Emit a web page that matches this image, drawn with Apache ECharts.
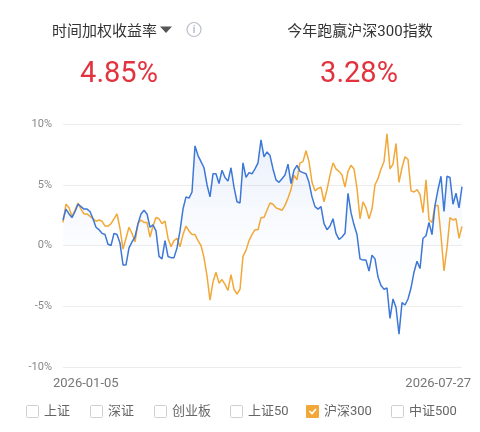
<!DOCTYPE html>
<html>
<head>
<meta charset="utf-8">
<script src="https://cdn.jsdelivr.net/npm/echarts@6/dist/echarts.min.js"></script>
<style>
html,body{margin:0;padding:0;background:#fff;}
#c{width:480px;height:432px;}
</style>
</head>
<body>
<div id="c"></div>
<script>
// ---- data ----
const startDate = '2026-01-05';
const endDate = '2026-07-27';
const holidays = ['2026-02-13','2026-02-16','2026-02-17','2026-02-18','2026-02-19','2026-02-20','2026-02-23','2026-04-06','2026-05-01','2026-05-04','2026-05-05','2026-06-19'];
const strategy = [2.1,3.0,2.6,2.3,2.8,3.4,3.2,3.0,3.0,2.8,2.2,1.5,1.3,1.0,0.9,0.1,0.0,1.0,0.9,0.2,
-1.6,-1.6,-0.2,0.3,0.7,1.8,2.6,2.9,2.6,1.5,1.7,1.2,-0.9,-1.1,0.4,-0.9,-1.0,-1.0,-0.2,1.2,
3.0,4.0,3.9,4.4,8.2,7.4,6.9,6.4,5.0,4.0,5.9,5.9,5.1,6.2,5.6,5.3,6.4,4.8,3.6,3.5,
6.8,5.6,6.0,5.9,6.3,6.8,8.7,7.3,7.7,7.4,6.3,5.4,5.2,5.5,5.8,6.7,5.1,6.2,6.6,6.1,
6.0,5.9,5.2,4.0,3.2,3.0,3.2,1.8,1.3,1.6,2.2,1.0,0.5,0.7,1.0,4.3,2.7,1.7,0.9,-1.1,
-1.2,-1.2,-2.1,-0.8,-1.1,-2.6,-3.3,-3.6,-3.5,-6.0,-4.4,-5.1,-7.3,-4.7,-4.9,-4.4,-3.5,-2.2,-1.3,-1.9,
0.6,0.8,1.9,0.9,3.3,4.6,5.7,2.8,5.7,5.6,3.4,4.3,3.1,4.85];
const hs300 = [1.9,3.4,3.1,2.4,2.9,3.5,3.0,2.6,2.6,2.4,2.2,2.0,2.1,2.0,1.6,1.6,1.8,2.2,2.6,1.4,
-0.3,0.6,1.5,1.0,0.3,1.8,2.1,1.9,1.9,0.7,1.6,2.3,2.2,1.8,2.0,0.6,-0.1,0.4,0.6,-0.1,
0.9,1.6,1.2,0.9,0.9,0.4,0.0,-1.0,-2.5,-4.5,-3.0,-2.2,-3.1,-2.8,-3.2,-3.7,-2.4,-3.6,-4.0,-3.6,
-0.9,-0.4,0.4,0.9,1.3,1.3,2.3,2.3,2.9,3.5,3.4,3.1,3.0,2.9,3.3,3.9,4.6,5.8,5.4,6.8,
6.9,7.8,6.9,5.2,4.5,4.7,4.8,3.6,4.6,5.8,6.8,6.3,6.1,5.8,4.8,6.1,6.6,6.3,4.7,2.2,
3.6,3.1,2.2,3.0,5.0,5.5,6.3,6.9,9.2,6.3,6.7,8.4,5.2,6.4,7.3,7.1,4.5,4.4,4.6,4.2,
2.7,5.4,2.1,1.9,3.3,3.3,0.8,-2.1,-0.2,2.3,2.1,2.2,0.6,1.57];
const headerLabels = ['时间加权收益率', '今年跑赢沪深300指数'];
const headerValues = ['4.85%', '3.28%'];
const legendNames = ['上证', '深证', '创业板', '上证50', '沪深300', '中证500'];
const legendChecked = [false, false, false, false, true, false];
const yTicks = {min: -10, max: 10, interval: 5};

// trading day categories
const dates = (function () {
  const out = [];
  const d = new Date(startDate + 'T00:00:00Z');
  const end = new Date(endDate + 'T00:00:00Z');
  while (d <= end) {
    const s = d.toISOString().slice(0, 10);
    const w = d.getUTCDay();
    if (w !== 0 && w !== 6 && holidays.indexOf(s) < 0) out.push(s);
    d.setUTCDate(d.getUTCDate() + 1);
  }
  return out;
})();
const N = strategy.length;
const cats = dates.slice(0, N - 1).concat([endDate]);

const BLUE = '#3d78d6';
const ORANGE = '#f2a838';
const RED = '#e1323d';
const FONT = 'Roboto, "Noto Sans CJK SC", sans-serif';

// legend graphic
const legendBoxX = [26, 90, 154, 230, 306, 391];
const graphics = [];
legendNames.forEach(function (name, i) {
  const bx = legendBoxX[i];
  if (legendChecked[i]) {
    graphics.push({type: 'rect', shape: {x: bx, y: 405, width: 13, height: 13, r: 1},
      style: {fill: ORANGE}});
    graphics.push({type: 'polyline', shape: {points: [[bx + 3.5, 411], [bx + 6, 413.5], [bx + 10, 409]]},
      style: {stroke: '#fff', lineWidth: 1.6, fill: null}});
  } else {
    graphics.push({type: 'rect', shape: {x: bx + 0.5, y: 405.5, width: 12, height: 12, r: 1},
      style: {fill: '#fff', stroke: '#cfcfcf', lineWidth: 1}});
  }
  graphics.push({type: 'text', x: bx + 18, y: 412,
    style: {text: name, fill: '#666', font: '13px ' + FONT, textVerticalAlign: 'middle', textAlign: 'left'}});
});
// headers
graphics.push({type: 'text', x: 52, y: 32,
  style: {text: headerLabels[0], fill: '#333', font: '15px ' + FONT, textAlign: 'left', textVerticalAlign: 'middle'}});
graphics.push({type: 'polygon', shape: {points: [[160, 26.5], [172, 26.5], [166, 33]]}, style: {fill: '#555'}});
graphics.push({type: 'circle', shape: {cx: 194, cy: 29.5, r: 7}, style: {fill: 'none', stroke: '#b9bec8', lineWidth: 1.2}});
graphics.push({type: 'text', x: 194, y: 30,
  style: {text: 'i', fill: '#b9bec8', font: 'bold 10px ' + FONT, textAlign: 'center', textVerticalAlign: 'middle'}});
graphics.push({type: 'text', x: 360, y: 32,
  style: {text: headerLabels[1], fill: '#333', font: '15px ' + FONT, textAlign: 'center', textVerticalAlign: 'middle'}});
graphics.push({type: 'text', x: 119, y: 75,
  style: {text: headerValues[0], fill: RED, font: '29px ' + FONT, textAlign: 'center', textVerticalAlign: 'middle'}});
graphics.push({type: 'text', x: 359, y: 75,
  style: {text: headerValues[1], fill: RED, font: '29px ' + FONT, textAlign: 'center', textVerticalAlign: 'middle'}});

const chart = echarts.init(document.getElementById('c'), null, {renderer: 'canvas'});
chart.setOption({
  animation: false,
  backgroundColor: '#fff',
  grid: [
    {left: 63, right: 18, top: 124, bottom: 65, containLabel: false},
    {left: 53, right: 9, top: 124, bottom: 65, containLabel: false}
  ],
  xAxis: [
    {
      type: 'category', data: cats, boundaryGap: false, gridIndex: 0,
      axisLine: {show: false}, axisTick: {show: false}, axisLabel: {show: false},
      splitLine: {show: false}
    },
    {
      type: 'category', data: cats, boundaryGap: false, gridIndex: 1,
      axisLine: {show: false}, axisTick: {show: false},
      axisLabel: {
        interval: function (i) { return i === 0 || i === N - 1; },
        showMinLabel: true, showMaxLabel: true,
        alignMinLabel: 'left', alignMaxLabel: 'right',
        color: '#777', fontSize: 13, fontFamily: FONT, margin: 10
      },
      splitLine: {show: false}
    }
  ],
  yAxis: [
    {
      type: 'value', min: yTicks.min, max: yTicks.max, interval: yTicks.interval, gridIndex: 0,
      axisLine: {show: false}, axisTick: {show: false},
      axisLabel: {formatter: '{value}%', color: '#888', fontSize: 11, fontFamily: FONT, margin: 11},
      splitLine: {lineStyle: {color: '#ececec', width: 1}}
    },
    {
      type: 'value', min: yTicks.min, max: yTicks.max, gridIndex: 1, show: false
    }
  ],
  series: [
    {
      name: '沪深300', type: 'line', data: hs300, symbol: 'none',
      lineStyle: {color: ORANGE, width: 1.5}, itemStyle: {color: ORANGE}
    },
    {
      name: '时间加权收益率', type: 'line', data: strategy, symbol: 'none',
      lineStyle: {color: BLUE, width: 1.5}, itemStyle: {color: BLUE},
      areaStyle: {
        color: new echarts.graphic.LinearGradient(0, 0, 0, 1, [
          {offset: 0, color: 'rgba(61,120,214,0.15)'},
          {offset: 0.55, color: 'rgba(61,120,214,0.02)'},
          {offset: 1, color: 'rgba(61,120,214,0)'}
        ])
      }
    }
  ],
  graphic: graphics
});
</script>
</body>
</html>
